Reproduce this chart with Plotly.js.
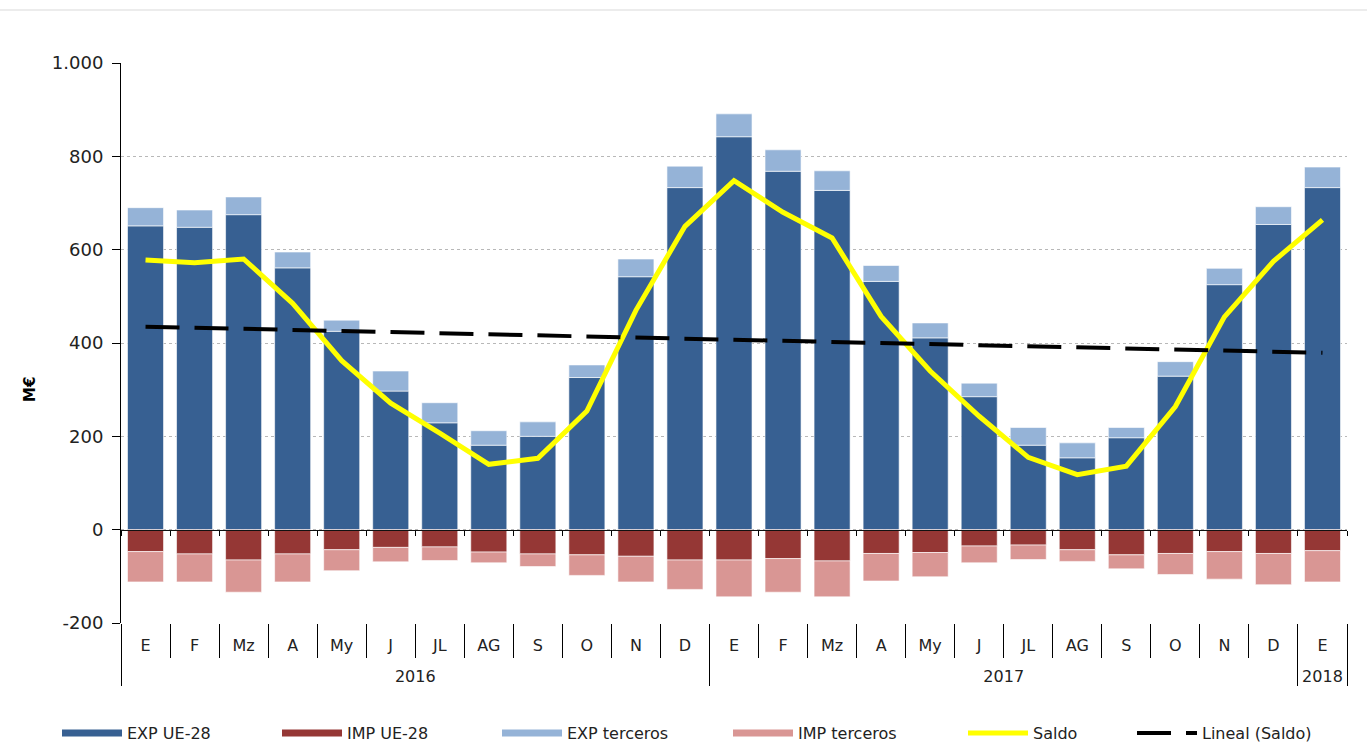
<!DOCTYPE html>
<html><head><meta charset="utf-8">
<script src="https://cdn.plot.ly/plotly-3.0.1.min.js"></script>
<style>html,body{margin:0;padding:0;background:#fff;}#chart{width:1367px;height:743px;}</style>
</head><body><div id="chart"></div>
<script>
const months = ['E','F','Mz','A','My','J','JL','AG','S','O','N','D','E','F','Mz','A','My','J','JL','AG','S','O','N','D','E'];
const years  = ['2016','2016','2016','2016','2016','2016','2016','2016','2016','2016','2016','2016',
                '2017','2017','2017','2017','2017','2017','2017','2017','2017','2017','2017','2017','2018'];
const expUE   = [651,648,675,561,425,297,229,181,200,326,542,733, 842,768,727,532,411,285,181,154,197,329,525,654,733];
const expTerc = [39,37,38,34,24,43,43,31,31,27,38,46, 49,46,42,34,32,29,38,32,22,31,35,38,44];
const impUE   = [-47,-52,-65,-52,-43,-38,-37,-48,-52,-54,-57,-65, -65,-62,-67,-51,-49,-35,-33,-43,-54,-51,-47,-51,-45];
const impTerc = [-65,-60,-69,-60,-45,-31,-29,-23,-27,-44,-55,-63, -79,-72,-77,-59,-52,-36,-31,-25,-30,-45,-59,-67,-67];
const saldo   = [578,572,580,485,362,271,207,140,153,254,470,650, 748,680,625,457,340,243,155,118,136,264,456,575,664];
const linealYears  = ['2016','2018'];
const linealMonths = ['E','E'];
const lineal  = [435,379];
const yTickVals = [-200,0,200,400,600,800,1000];
const yTickText = ['-200','0','200','400','600','800','1.000'];
const seriesNames = ['EXP UE-28','IMP UE-28','EXP terceros','IMP terceros','Saldo','Lineal (Saldo)'];
const seriesColors = ['#376092','#953735','#95B3D7','#D99694','#FFFF00','#000000'];

// second-level labels pushed one line down to sit in their own row
const yearLbl = years.map(y => '<br>' + y);
const X = [yearLbl, months];
const XL = [linealYears.map(y => '<br>' + y), linealMonths];
const barLine = {color:'rgba(255,255,255,0.6)', width:1};

const traces = [
  {type:'bar', name:seriesNames[0], x:X, y:expUE,   marker:{color:seriesColors[0], line:barLine}, showlegend:false},
  {type:'bar', name:seriesNames[1], x:X, y:impUE,   marker:{color:seriesColors[1], line:barLine}, showlegend:false},
  {type:'bar', name:seriesNames[2], x:X, y:expTerc, marker:{color:seriesColors[2], line:barLine}, showlegend:false},
  {type:'bar', name:seriesNames[3], x:X, y:impTerc, marker:{color:seriesColors[3], line:barLine}, showlegend:false},
  {type:'scatter', mode:'lines', name:seriesNames[4], x:X, y:saldo, line:{color:seriesColors[4], width:5}, legend:'legend5'},
  {type:'scatter', mode:'lines', name:seriesNames[5], x:XL, y:lineal, line:{color:seriesColors[5], width:4, dash:'34px,15px'}, legend:'legend6'},
  {type:'scatter', mode:'lines', x:[], y:[], xaxis:'x2', showlegend:false, hoverinfo:'skip'}
];
// legend-only entries for the bar series, drawn as wide colour swatches like the original
for (let i = 0; i < 4; i++) {
  traces.push({type:'scatter', mode:'lines', name:seriesNames[i], x:[null], y:[null],
               line:{color:seriesColors[i], width:7}, legend: i === 0 ? 'legend' : 'legend' + (i + 1), hoverinfo:'skip'});
}
const bounds = [];
for (let i = 0; i <= months.length; i++) bounds.push(i - 0.5);

const legendStarts = [57, 277, 497, 728, 963, 1132];
function mkLegend(px) {
  return {orientation:'h', xref:'container', yref:'container', x:px/1367, y:1 - 733/743,
          xanchor:'left', yanchor:'middle', itemwidth:60, bgcolor:'rgba(0,0,0,0)',
          font:{size:16, color:'#222'}};
}

const layout = {
  width:1367, height:743,
  margin:{l:121, r:20, t:63, b:120},
  paper_bgcolor:'#fff', plot_bgcolor:'#fff',
  font:{family:'DejaVu Sans, Verdana, sans-serif', size:16, color:'#222'},
  barmode:'relative', bargap:0.265,
  showlegend:true,
  legend:mkLegend(legendStarts[0]),
  legend2:mkLegend(legendStarts[1]),
  legend3:mkLegend(legendStarts[2]),
  legend4:mkLegend(legendStarts[3]),
  legend5:mkLegend(legendStarts[4]),
  legend6:mkLegend(legendStarts[5]),
  xaxis:{type:'multicategory', showline:false, ticks:'outside', ticklen:34, tickcolor:'#000', tickwidth:1,
         ticklabelstandoff:11,
         showdividers:true, dividercolor:'#000', dividerwidth:1, showgrid:false, zeroline:false,
         tickfont:{size:16, color:'#222'}},
  xaxis2:{overlaying:'x', anchor:'free', position:200/1200, type:'linear', range:[-0.5, months.length-0.5],
          showline:true, linecolor:'#111', linewidth:1.5, ticks:'outside', ticklen:5, tickcolor:'#000',
          tickmode:'array', tickvals:bounds, showticklabels:false, showgrid:false, zeroline:false},
  yaxis:{range:[-200,1000], tickmode:'array', tickvals:yTickVals, ticktext:yTickText,
         showline:true, linecolor:'#000', linewidth:1,
         ticks:'outside', ticklen:8, tickcolor:'#000', ticklabelstandoff:5,
         showgrid:true, gridcolor:'#b8b8b8', griddash:'dot', gridwidth:1, zeroline:false,
         tickfont:{size:18, color:'#222'}},
  annotations:[{text:'<b>M€</b>', textangle:-90, xref:'paper', yref:'paper', x:(19-121)/1226, y:(623-390)/560,
                showarrow:false, font:{size:15, color:'#000'}}],
  shapes:[{type:'line', xref:'paper', yref:'paper', x0:-121/1226, x1:1+20/1226, y0:(623-10)/560, y1:(623-10)/560,
           line:{color:'#d9d9d9', width:1}}]
};
Plotly.newPlot('chart', traces, layout, {displayModeBar:false, staticPlot:true});
</script></body></html>
